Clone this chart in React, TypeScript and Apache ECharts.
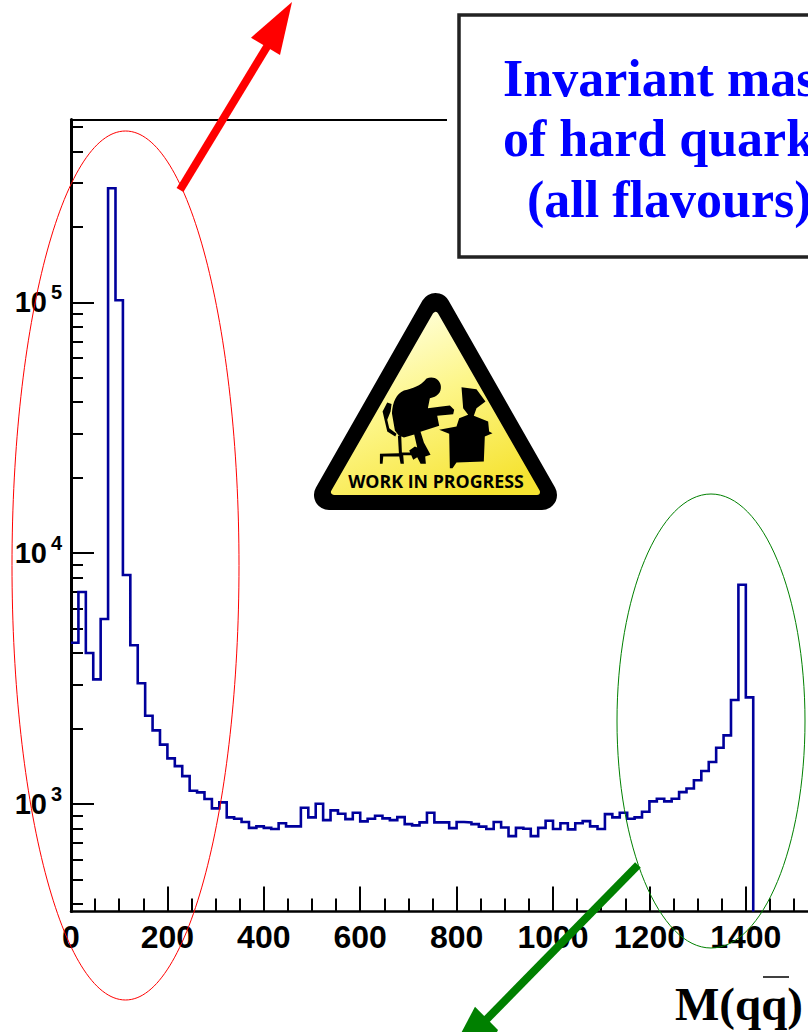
import React, { useEffect, useRef } from "react";
import * as echarts from "echarts";

const BIN_WIDTH = 2000 / 130;
const AXIS_MIN = 373;
const AXIS_MAX = 536000;
const X_MAX = 1529;

// Entries per bin (first bin starts at M = 0)
const binValues = [
  4397, 7003, 4000, 3142, 5466, 285000, 102000, 8185, 4295, 3030,
  2250, 1967, 1725, 1521, 1417, 1293, 1130, 1113, 1047, 961,
  1016, 885, 874, 848, 804, 815, 804, 795, 838, 815,
  815, 967, 885, 1003, 863, 944, 915, 871, 923, 853,
  874, 898, 877, 863, 887, 832, 822, 845, 923, 845,
  845, 802, 848, 845, 832, 813, 795, 848, 807, 745,
  804, 797, 745, 804, 858, 795, 838, 793, 838, 855,
  815, 795, 912, 885, 923, 874, 885, 932, 1025, 1050,
  1025, 1050, 1116, 1153, 1244, 1354, 1471, 1677, 1879, 2598,
  7490, 2664,
];

const xLabels = [0, 200, 400, 600, 800, 1000, 1200, 1400];
const xMajors = [200, 400, 600, 800, 1000, 1200, 1400];
const xMinors = [
  50, 100, 150, 250, 300, 350, 450, 500, 550, 650, 700, 750, 850, 900, 950,
  1050, 1100, 1150, 1250, 1300, 1350, 1450, 1500,
];
const yMajors = [1000, 10000, 100000];
const yMinors = [
  400, 500, 600, 700, 800, 900,
  2000, 3000, 4000, 5000, 6000, 7000, 8000, 9000,
  20000, 30000, 40000, 50000, 60000, 70000, 80000, 90000,
  200000, 300000, 400000, 500000,
];
const titleLines = ["Invariant mass", "of hard quarks", "(all flavours)"];

const personPath =
  "M380 296 C400 287 420 298 423 318 C425 338 412 350 390 355 L384 385 L425 380 L450 377 L463 390 L460 403 L412 408 L418 438 L362 456 L372 488 L392 525 L376 530 L378 552 L362 552 L352 532 L340 540 L328 512 L345 500 L352 503 L343 464 L312 473 L296 466 L285 452 L276 400 C278 365 290 342 312 332 C340 325 360 320 380 296 Z " +
  "M248 395 L262 368 L275 372 L272 395 L262 420 L268 445 L290 462 L286 470 L262 455 L255 425 Z " +
  "M294 468 L304 468 L306 518 L340 518 L340 526 L310 526 L312 552 L302 552 L298 530 L250 530 L248 552 L240 552 L240 522 L297 520 Z";
const monitorPath =
  "M485 322 L530 328 L557 365 L530 385 L522 408 L565 425 L568 455 L578 460 L555 470 L552 545 L470 548 L458 565 L450 565 L448 462 L418 450 L470 440 L478 415 L505 405 L490 385 Z";

echarts.graphic.registerShape("wipPerson", echarts.graphic.extendPath(personPath, {}));
echarts.graphic.registerShape("wipMonitor", echarts.graphic.extendPath(monitorPath, {}));

const baseXAxis = {
  type: "value",
  min: 0,
  max: X_MAX,
  interval: 50,
  splitLine: { show: false },
};

export default function App() {
  const ref = useRef<HTMLDivElement>(null);
  useEffect(() => {
    document.body.style.margin = "0";
    const chart = echarts.init(ref.current!, undefined, { renderer: "svg" });
    const data: [number, number][] = binValues.map((v, i) => [i * BIN_WIDTH, v]);
    data.push([binValues.length * BIN_WIDTH, AXIS_MIN]);

    const signScale = 1 / 3;
    const signFill = () =>
      new echarts.graphic.LinearGradient(0.25, 0, 0.75, 1, [
        { offset: 0, color: "#ffffe0" },
        { offset: 0.45, color: "#fdf68a" },
        { offset: 1, color: "#f6e332" },
      ]);
    chart.setOption({
      animation: false,
      backgroundColor: "#fff",
      grid: { left: 71, top: 119.5, right: 0, height: 792, containLabel: false },
      xAxis: [
        {
          ...baseXAxis,
          position: "bottom",
          axisLine: { lineStyle: { color: "#000", width: 2.5 } },
          axisTick: { customValues: xMajors, inside: true, length: 25, lineStyle: { color: "#000", width: 2 } },
          axisLabel: {
            customValues: xLabels,
            margin: 9,
            formatter: (v: number) => String(v),
            color: "#000",
            fontFamily: "Liberation Sans",
            fontWeight: "bold",
            fontSize: 32,
          },
        },
        {
          ...baseXAxis,
          position: "bottom",
          axisLine: { show: false },
          axisTick: { customValues: xMinors, inside: true, length: 13, lineStyle: { color: "#000", width: 2 } },
          axisLabel: { show: false },
        },
        {
          ...baseXAxis,
          position: "top",
          axisLine: { lineStyle: { color: "#000", width: 2 } },
          axisTick: { show: false },
          axisLabel: { show: false },
        },
      ],
      yAxis: [
        {
          type: "log",
          logBase: 10,
          min: AXIS_MIN,
          max: AXIS_MAX,
          splitLine: { show: false },
          minorSplitLine: { show: false },
          axisLine: { lineStyle: { color: "#000", width: 3 } },
          axisTick: { customValues: yMajors, inside: true, length: 23, lineStyle: { color: "#000", width: 2 } },
          axisLabel: {
            customValues: yMajors,
            margin: 9,
            formatter: (v: number) => `{b|10}{s|${Math.round(Math.log10(v))}}`,
            rich: {
              b: { fontFamily: "Liberation Sans", fontWeight: "bold", fontSize: 29, color: "#000", verticalAlign: "bottom", height: 35 },
              s: { fontFamily: "Liberation Sans", fontWeight: "bold", fontSize: 20, color: "#000", verticalAlign: "top", height: 15, padding: [0, 0, 0, 4] },
            },
          },
        },
        {
          type: "log",
          logBase: 10,
          position: "left",
          min: AXIS_MIN,
          max: AXIS_MAX,
          splitLine: { show: false },
          axisLine: { show: false },
          axisTick: { customValues: yMinors, inside: true, length: 12, lineStyle: { color: "#000", width: 2 } },
          axisLabel: { show: false },
        },
      ],
      series: [
        {
          type: "line",
          data,
          xAxisIndex: 0,
          yAxisIndex: 0,
          step: "end",
          showSymbol: false,
          symbol: "none",
          clip: true,
          lineStyle: { color: "#00009c", width: 2.6, join: "miter" },
          silent: true,
        },
      ],
      graphic: [
        // white margin and the box of the title
        { type: "rect", z: 10, shape: { x: 447, y: 8, width: 361, height: 256 }, style: { fill: "#fff" } },
        {
          type: "rect",
          z: 11,
          shape: { x: 459, y: 15, width: 400, height: 242 },
          style: { fill: "#fff", stroke: "#222", lineWidth: 3.5 },
        },
        ...titleLines.map((t, i) => ({
          type: "text",
          z: 12,
          x: i === 2 ? 527 : 503,
          y: [52, 112, 173][i],
          style: {
            text: t,
            fill: "#0000ff",
            fontFamily: "Liberation Serif",
            fontWeight: "bold",
            fontSize: 52,
          },
        })),
        // work-in-progress sign
        {
          type: "polygon",
          z: 5,
          shape: { points: [[435.5, 308], [329, 495], [542, 495]] },
          style: { fill: "#000", stroke: "#000", lineWidth: 30, lineJoin: "round" },
        },
        {
          type: "polygon",
          z: 6,
          shape: { points: [[435.5, 315], [334, 492], [537, 492]] },
          style: { fill: signFill(), stroke: signFill(), lineWidth: 6, lineJoin: "round" },
        },
        { type: "wipPerson", z: 7, x: 300, y: 280, scaleX: signScale, scaleY: signScale, style: { fill: "#000" } },
        { type: "wipMonitor", z: 7, x: 300, y: 280, scaleX: signScale, scaleY: signScale, style: { fill: "#000" } },
        {
          type: "text",
          z: 7,
          x: 436,
          y: 481,
          style: {
            text: "WORK IN PROGRESS",
            fill: "#000",
            fontFamily: "Open Sans",
            fontWeight: "bold",
            fontSize: 17.8,
            align: "center",
            verticalAlign: "middle",
          },
        },
        // ellipses
        {
          type: "ellipse",
          z: 8,
          shape: { cx: 125.5, cy: 565.5, rx: 113.5, ry: 434.5 },
          style: { fill: "none", stroke: "#ff0000", lineWidth: 1 },
        },
        {
          type: "ellipse",
          z: 8,
          shape: { cx: 711, cy: 721, rx: 94, ry: 227 },
          style: { fill: "none", stroke: "#008000", lineWidth: 1 },
        },
        // arrows
        { type: "line", z: 9, shape: { x1: 180, y1: 190, x2: 268, y2: 45 }, style: { stroke: "#ff0000", lineWidth: 8 } },
        { type: "polygon", z: 9, shape: { points: [[292, 2], [251, 37.7], [280, 55]] }, style: { fill: "#ff0000" } },
        { type: "line", z: 9, shape: { x1: 638, y1: 865, x2: 484, y2: 1022 }, style: { stroke: "#008000", lineWidth: 8 } },
        { type: "polygon", z: 9, shape: { points: [[461.7, 1032], [475, 1006.7], [498, 1030], [497, 1032]] }, style: { fill: "#008000" } },
        // axis title
        {
          type: "text",
          z: 9,
          x: 675,
          y: 980,
          style: {
            text: "M(qq)",
            fill: "#000",
            fontFamily: "Liberation Serif",
            fontWeight: "bold",
            fontSize: 47,
          },
        },
        { type: "line", z: 9, shape: { x1: 763, y1: 977, x2: 789, y2: 977 }, style: { stroke: "#000", lineWidth: 1.5 } },
      ],
    });
    return () => chart.dispose();
  }, []);
  return <div ref={ref} style={{ width: 808, height: 1032, overflow: "hidden" }} />;
}
